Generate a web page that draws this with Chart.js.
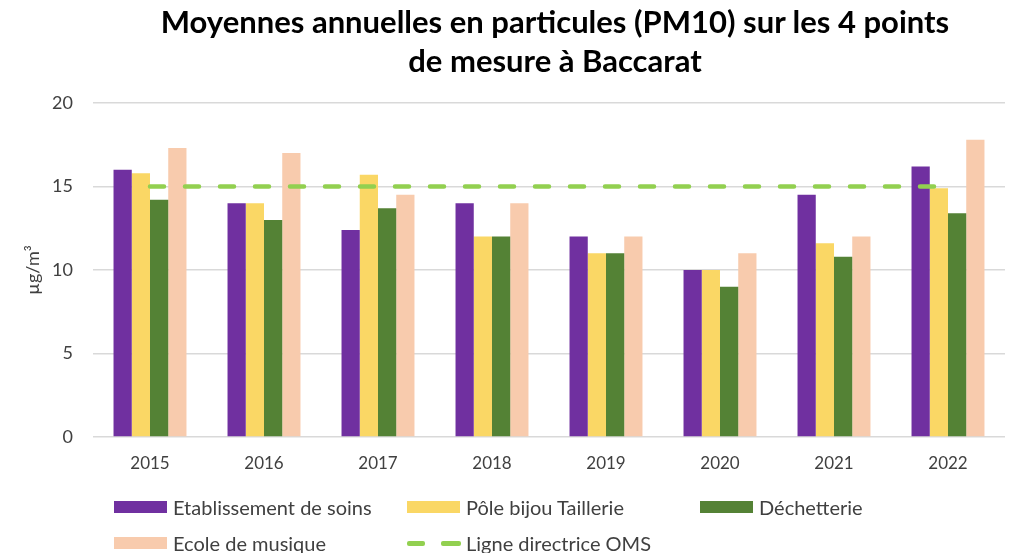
<!DOCTYPE html>
<html>
<head>
<meta charset="utf-8">
<script src="https://cdn.jsdelivr.net/npm/chart.js@4"></script>
<style>
  html, body { margin: 0; padding: 0; background: #fff; }
  #wrap { position: relative; width: 1012px; height: 553px; font-family: Lato, sans-serif; }
  #chartBox { position: absolute; left: 0; top: 0; width: 1012px; height: 553px; }
  #title { position: absolute; left: 105px; width: 900px; top: 2px; text-align: center;
           font: bold 31px Lato, sans-serif; line-height: 39px; color: #000; }
  .item { position: absolute; font-size: 20px; color: #404040; white-space: nowrap; line-height: 24px; }
  .sw { position: absolute; width: 53px; height: 12px; }
</style>
</head>
<body>
<div id="wrap">
  <div id="chartBox"><canvas id="myChart"></canvas></div>
  <div id="title">Moyennes annuelles en particules (PM10) sur les 4 points<br>de mesure à Baccarat</div>
  <div id="legend"></div>
</div>
<script>
// data ------------------------------------------------------------------
const years = ['2015', '2016', '2017', '2018', '2019', '2020', '2021', '2022'];
const yTicks = [0, 5, 10, 15, 20];

const etablissement = [16, 14, 12.4, 14, 12, 10, 14.5, 16.2];
const poleBijou     = [15.8, 14, 15.7, 12, 11, 10, 11.6, 14.9];
const dechetterie   = [14.2, 13, 13.7, 12, 11, 9, 10.8, 13.4];
const ecoleMusique  = [17.3, 17, 14.5, 14, 12, 11, 12, 17.8];
const ligneOMS      = [15, 15, 15, 15, 15, 15, 15, 15];

const seriesNames = ['Etablissement de soins', 'Pôle bijou Taillerie', 'Déchetterie', 'Ecole de musique', 'Ligne directrice OMS'];
const seriesColors = ['#7030a0', '#fad765', '#548235', '#f8cbad', '#92d050'];

// chart -----------------------------------------------------------------
const barData = [etablissement, poleBijou, dechetterie, ecoleMusique];

const datasets = barData.map((values, i) => {
  return {
    type: 'bar',
    label: seriesNames[i],
    data: values,
    backgroundColor: seriesColors[i],
    barPercentage: 1,
    categoryPercentage: 0.64,
    order: 1
  };
});

datasets.push({
  type: 'line',
  label: seriesNames[4],
  data: ligneOMS,
  borderColor: seriesColors[4],
  borderWidth: 4.5,
  borderDash: [14, 21],
  borderCapStyle: 'round',
  pointRadius: 0,
  fill: false,
  order: 0
});

const ctx = document.getElementById('myChart').getContext('2d');
const myChart = new Chart(ctx, {
  data: {
    labels: years,
    datasets: datasets
  },
  options: {
    responsive: true,
    maintainAspectRatio: false,
    animation: false,
    layout: { padding: { top: 103, right: 7, bottom: 76, left: 0 } },
    plugins: {
      legend: { display: false },
      title: { display: false },
      tooltip: { enabled: false }
    },
    scales: {
      x: {
        grid: { display: false, drawTicks: false },
        border: { display: false },
        ticks: { font: { family: 'Lato', size: 17 }, color: '#404040', padding: 16 },
        afterFit: (scale) => { scale.height = 40; }
      },
      y: {
        min: 0,
        max: 20,
        afterBuildTicks: (scale) => { scale.ticks = yTicks.map(v => ({ value: v })); },
        grid: { color: '#d9d9d9', lineWidth: 1.5, drawTicks: false },
        border: { display: false },
        ticks: { font: { family: 'Lato', size: 18 }, color: '#404040', padding: 20 },
        title: {
          display: true,
          text: 'µg/m³',
          font: { family: 'Lato', size: 18 },
          color: '#404040',
          padding: { top: 22, bottom: 0 }
        },
        afterFit: (scale) => { scale.width = 93; }
      }
    }
  }
});

// legend (built from the chart datasets) ----------------------------------
const legendSlots = [[114, 507], [407, 507], [700, 507], [114, 543], [407, 543]];
const legendEl = document.getElementById('legend');
myChart.data.datasets.forEach((ds, i) => {
  const [x, y] = legendSlots[i];
  let sw;
  if (ds.type === 'line') {
    sw = '<div class="sw" style="left:' + x + 'px;top:' + (y - 2) + 'px;height:0;">' +
         '<div style="position:absolute;left:0;width:18px;height:4.5px;border-radius:2px;background:' + ds.borderColor + '"></div>' +
         '<div style="position:absolute;left:34px;width:20px;height:4.5px;border-radius:2px;background:' + ds.borderColor + '"></div></div>';
  } else {
    sw = '<div class="sw" style="left:' + x + 'px;top:' + (y - 6) + 'px;background:' + ds.backgroundColor + '"></div>';
  }
  legendEl.insertAdjacentHTML('beforeend', sw +
    '<div class="item" style="left:' + (x + 59) + 'px;top:' + (y - 12) + 'px;">' + ds.label + '</div>');
});
</script>
</body>
</html>
